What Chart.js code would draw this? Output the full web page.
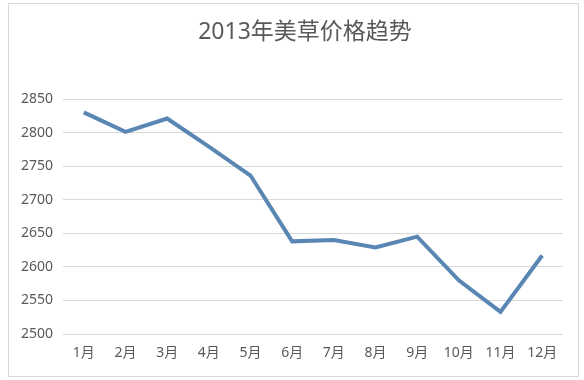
<!DOCTYPE html>
<html>
<head>
<meta charset="utf-8">
<script src="https://cdn.jsdelivr.net/npm/chart.js@4"></script>
<style>
html,body{margin:0;padding:0;background:#fff;}
#frame{position:absolute;left:8px;top:3px;width:569px;height:372px;border:1px solid #d9d9d9;pointer-events:none;}
#c{position:absolute;left:0;top:0;}
</style>
</head>
<body>
<canvas id="c" width="584" height="380"></canvas>
<div id="frame"></div>
<script>
const titleText = '2013年美草价格趋势';
const months = ['1月','2月','3月','4月','5月','6月','7月','8月','9月','10月','11月','12月'];
const prices = [2830, 2801, 2821, 2779, 2736, 2638, 2640, 2629, 2645, 2580, 2533, 2617];
const yMin = 2500, yMax = 2850, yStep = 50;

const fontFam = "'Noto Sans', 'Noto Sans CJK SC', sans-serif";
const textColor = '#595959';

const titleShift = {
  id: 'titleShift',
  afterLayout(chart) {
    if (chart.titleBlock) chart.titleBlock.left = 47;
  }
};

new Chart(document.getElementById('c'), {
  type: 'line',
  data: {
    labels: months,
    datasets: [{
      data: prices,
      borderColor: '#5a86b4',
      borderWidth: 4,
      pointRadius: 0,
      tension: 0,
      fill: false
    }]
  },
  plugins: [titleShift],
  options: {
    responsive: false,
    animation: false,
    layout: { padding: { left: 0, right: 21, top: 0, bottom: 0 } },
    plugins: {
      legend: { display: false },
      tooltip: { enabled: false },
      title: {
        display: true,
        text: titleText,
        color: textColor,
        font: { family: fontFam, size: 23, weight: 'normal' },
        padding: { top: 19, bottom: 52.4 }
      }
    },
    scales: {
      x: {
        offset: true,
        grid: { display: false, drawTicks: false },
        border: { display: false },
        ticks: { color: textColor, font: { family: fontFam, size: 14 }, padding: 11, maxRotation: 0, autoSkip: false },
        afterFit: s => { s.height = 46; }
      },
      y: {
        min: yMin, max: yMax,
        grid: { color: '#d9d9d9', lineWidth: 1, drawTicks: false },
        border: { display: false },
        ticks: { stepSize: yStep, color: textColor, font: { family: fontFam, size: 14 }, padding: 10,
                 callback: v => String(v) },
        afterFit: s => { s.width = 63; }
      }
    }
  }
});
</script>
</body>
</html>
